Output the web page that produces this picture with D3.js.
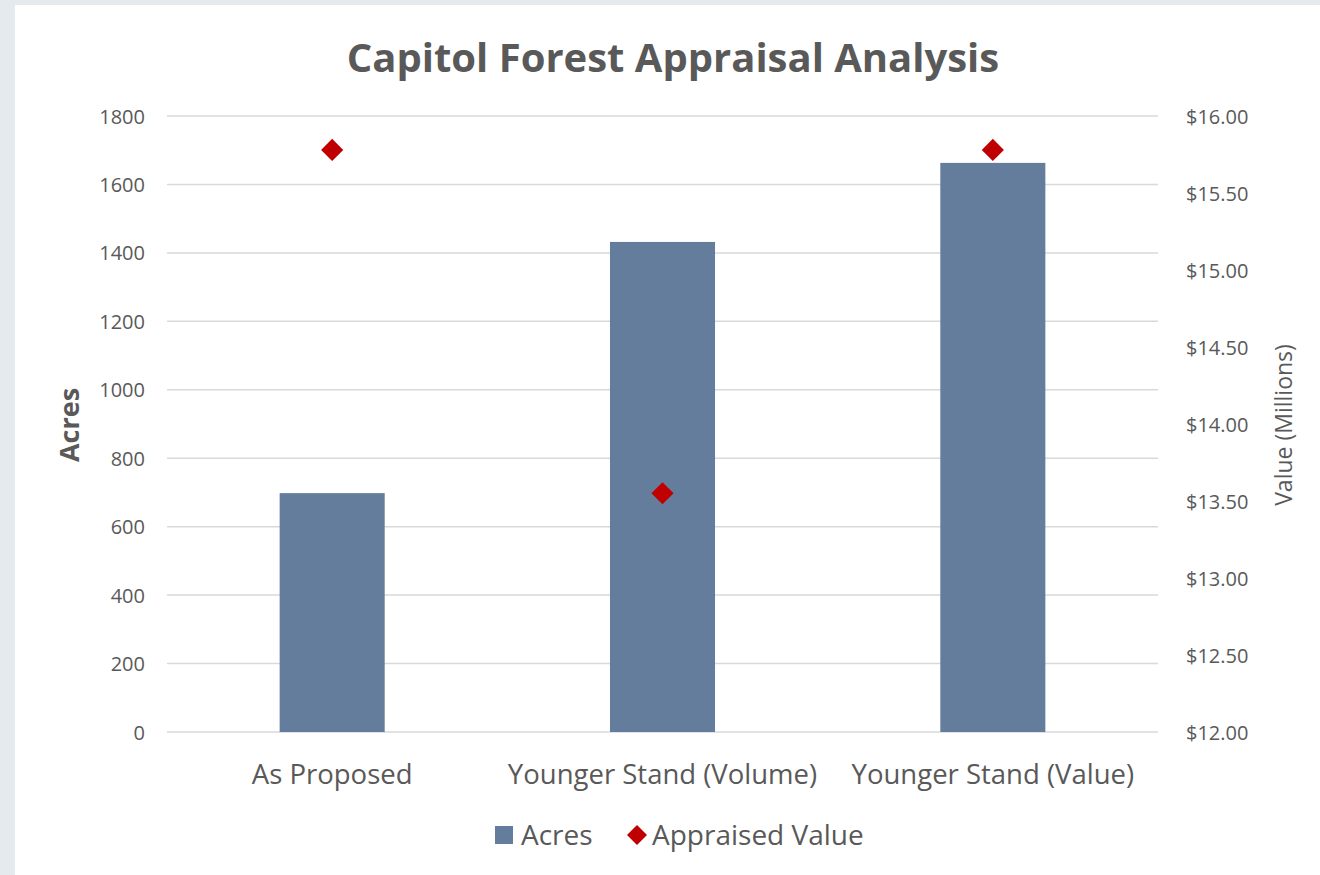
<!DOCTYPE html>
<html>
<head>
<meta charset="utf-8">
<script src="https://cdn.jsdelivr.net/npm/d3@7"></script>
<style>
  body { margin: 0; background: #e5eaef; }
  #chart { position: absolute; left: 15px; top: 5px; }
  text { font-family: "Open Sans", Lato, sans-serif; fill: #595959; }
</style>
</head>
<body>
<div id="chart"></div>
<script>
// data
const categories = ['As Proposed', 'Younger Stand (Volume)', 'Younger Stand (Value)'];
const acres = [698, 1432, 1663];
const appraisedValue = [15.78, 13.55, 15.78];   // millions of dollars
const acreTicks = [0, 200, 400, 600, 800, 1000, 1200, 1400, 1600, 1800];
const valueTicks = [12, 12.5, 13, 13.5, 14, 14.5, 15, 15.5, 16];

const width = 1305;
const height = 870;
// plot area in svg coords (svg is offset 15,5 in page)
const plot = { left: 152, right: 1143, top: 111, bottom: 727 };

const svg = d3.select('#chart')
  .append('svg')
  .attr('width', width)
  .attr('height', height)
  .style('background', '#fff');

const x = d3.scaleBand()
  .domain(categories)
  .range([plot.left, plot.right])
  .padding(0);

const yLeft = d3.scaleLinear().domain([0, 1800]).range([plot.bottom, plot.top]);
const yRight = d3.scaleLinear().domain([12, 16]).range([plot.bottom, plot.top]);

// gridlines
svg.append('g')
  .selectAll('line')
  .data(acreTicks)
  .enter()
  .append('line')
  .attr('x1', plot.left)
  .attr('x2', plot.right)
  .attr('y1', d => yLeft(d))
  .attr('y2', d => yLeft(d))
  .attr('stroke', '#d9d9d9')
  .attr('stroke-width', 1.5);

// left axis
const leftAxis = svg.append('g')
  .attr('transform', `translate(${plot.left},0)`)
  .call(d3.axisLeft(yLeft).tickValues(acreTicks).tickSize(0).tickPadding(22)
    .tickFormat(d3.format('d')));
leftAxis.select('.domain').remove();
leftAxis.selectAll('text').style('font-size', '20px').attr('dy', '0.35em');

// right axis
const rightAxis = svg.append('g')
  .attr('transform', `translate(${plot.right},0)`)
  .call(d3.axisRight(yRight).tickValues(valueTicks).tickSize(0).tickPadding(28)
    .tickFormat(d => '$' + d3.format('.2f')(d)));
rightAxis.select('.domain').remove();
rightAxis.selectAll('text').style('font-size', '20px').attr('dy', '0.35em');

// bars
const barW = x.bandwidth() * 0.318;
svg.append('g')
  .selectAll('rect')
  .data(acres)
  .enter()
  .append('rect')
  .attr('x', (d, i) => x(categories[i]) + x.bandwidth() / 2 - barW / 2)
  .attr('y', d => yLeft(d))
  .attr('width', barW)
  .attr('height', d => plot.bottom - yLeft(d))
  .attr('fill', '#647d9c');

// diamonds
const diamond = d3.symbol().type(d3.symbolSquare).size(245);
svg.append('g')
  .selectAll('path')
  .data(appraisedValue)
  .enter()
  .append('path')
  .attr('d', diamond)
  .attr('transform', (d, i) =>
    `translate(${x(categories[i]) + x.bandwidth() / 2},${yRight(d)}) rotate(45)`)
  .attr('fill', '#c00000');

// category labels
svg.append('g')
  .selectAll('text')
  .data(categories)
  .enter()
  .append('text')
  .attr('x', d => x(d) + x.bandwidth() / 2)
  .attr('y', 779)
  .attr('text-anchor', 'middle')
  .style('font-size', '27.5px')
  .text(d => d);

// title
svg.append('text')
  .attr('x', 658)
  .attr('y', 67)
  .attr('text-anchor', 'middle')
  .style('font-size', '40px')
  .style('font-weight', 'bold')
  .text('Capitol Forest Appraisal Analysis');

// axis titles
svg.append('text')
  .attr('transform', 'translate(64,420) rotate(-90)')
  .attr('text-anchor', 'middle')
  .style('font-size', '27px')
  .style('font-weight', 'bold')
  .text('Acres');

svg.append('text')
  .attr('transform', 'translate(1277,420) rotate(-90)')
  .attr('text-anchor', 'middle')
  .style('font-size', '23px')
  .text('Value (Millions)');

// legend
const legend = svg.append('g').attr('transform', 'translate(0,830)');
legend.append('rect')
  .attr('x', 480).attr('y', -9).attr('width', 18).attr('height', 18)
  .attr('fill', '#647d9c');
legend.append('text')
  .attr('x', 506).attr('y', 0).attr('dy', '0.35em')
  .style('font-size', '28px')
  .text('Acres');
legend.append('path')
  .attr('d', d3.symbol().type(d3.symbolSquare).size(200))
  .attr('transform', 'translate(622,0) rotate(45)')
  .attr('fill', '#c00000');
legend.append('text')
  .attr('x', 637).attr('y', 0).attr('dy', '0.35em')
  .style('font-size', '28px')
  .text('Appraised Value');
</script>
</body>
</html>
